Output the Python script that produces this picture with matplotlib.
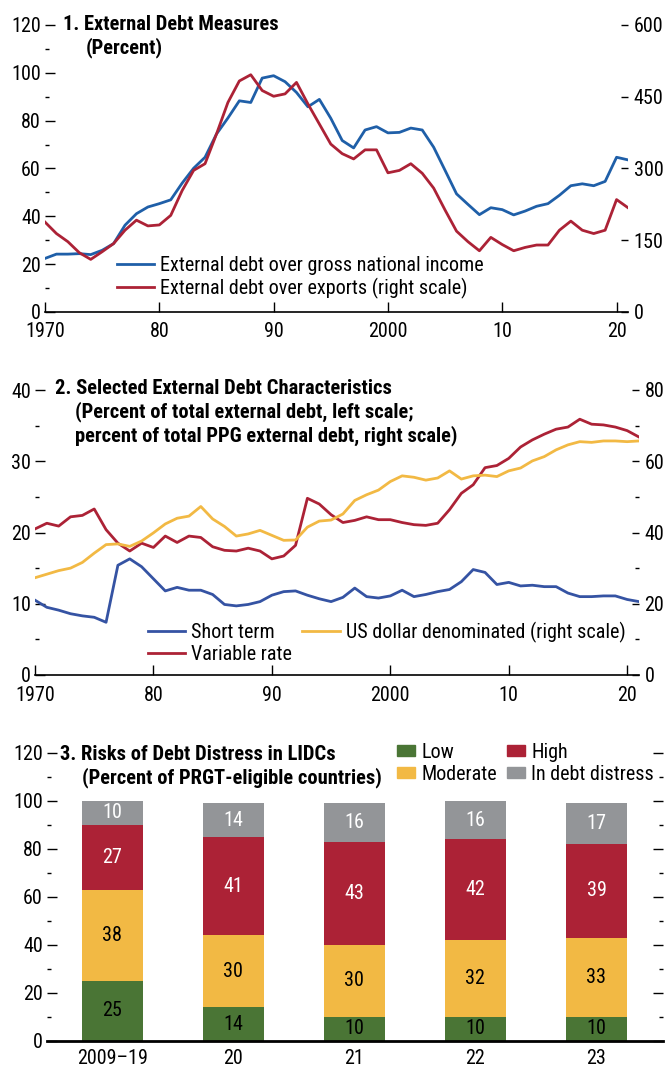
import numpy as np
import matplotlib.pyplot as plt
from matplotlib.ticker import MultipleLocator
from matplotlib.patches import Patch
from matplotlib.lines import Line2D

plt.rcParams['font.family'] = ['Roboto Condensed', 'Archivo Narrow', 'Liberation Sans', 'DejaVu Sans']

#%% data
years = np.arange(1970, 2022)

# panel 1
debt_gni = [22.4, 24.2, 24.2, 24.4, 24.0, 25.8, 28.6, 36.3, 41.1, 43.9,
            45.3, 46.9, 53.9, 60.1, 64.7, 74.4, 81.1, 88.3, 87.6, 97.8,
            98.8, 96.3, 91.8, 85.8, 88.9, 81.0, 71.7, 68.6, 76.1, 77.5,
            74.9, 75.1, 76.9, 76.1, 68.9, 59.2, 49.4, 45.0, 40.7, 43.6,
            42.8, 40.6, 42.2, 44.2, 45.3, 48.8, 52.8, 53.6, 52.8, 54.6,
            64.7, 63.6]
debt_exports = [188, 164, 147, 124, 110, 126, 143, 171, 192, 180,
                182, 202, 254, 296, 310, 372, 438, 483, 496, 463,
                451, 456, 480, 435, 393, 351, 331, 320, 339, 339,
                291, 296, 310, 290, 259, 213, 169, 147, 128, 156,
                141, 128, 135, 140, 140, 171, 190, 171, 164, 171,
                235, 218]

# panel 2
short_term = [10.5, 9.5, 9.1, 8.6, 8.3, 8.1, 7.4, 15.4, 16.3, 15.2,
              13.5, 11.8, 12.3, 11.9, 11.9, 11.3, 9.9, 9.7, 9.9, 10.3,
              11.2, 11.7, 11.8, 11.2, 10.7, 10.3, 10.9, 12.2, 11.0, 10.8,
              11.1, 11.9, 11.0, 11.3, 11.7, 12.0, 13.1, 14.8, 14.4, 12.7,
              13.0, 12.5, 12.6, 12.4, 12.4, 11.5, 11.0, 11.0, 11.1, 11.1,
              10.6, 10.3]
variable_rate = [20.5, 21.3, 20.9, 22.2, 22.4, 23.3, 20.4, 18.5, 17.4, 18.5,
                 17.9, 19.5, 18.6, 19.5, 19.3, 18.0, 17.5, 17.4, 17.8, 17.4,
                 16.3, 16.7, 18.2, 24.8, 24.0, 22.5, 21.4, 21.7, 22.2, 21.8,
                 21.8, 21.4, 21.1, 21.0, 21.3, 23.2, 25.5, 26.7, 29.1, 29.4,
                 30.4, 32.0, 33.0, 33.8, 34.5, 34.8, 35.9, 35.2, 35.1, 34.8,
                 34.3, 33.4]
usd_denom = [27.3, 28.3, 29.3, 30.0, 31.6, 34.2, 36.6, 36.8, 36.1, 37.6,
             39.9, 42.4, 44.0, 44.6, 47.3, 43.8, 41.7, 39.0, 39.6, 40.6,
             39.2, 37.8, 37.9, 41.5, 43.2, 43.5, 45.2, 49.0, 50.6, 51.9,
             54.3, 55.9, 55.5, 54.7, 55.3, 57.3, 55.0, 55.9, 56.1, 55.7,
             57.3, 58.1, 60.1, 61.3, 63.2, 64.6, 65.5, 65.3, 65.7, 65.7,
             65.5, 65.7]

# panel 3
periods = ['2009\u201319', '20', '21', '22', '23']
risk_names = ['Low', 'Moderate', 'High', 'In debt distress']
risk_low = [25, 14, 10, 10, 10]
risk_moderate = [38, 30, 30, 32, 33]
risk_high = [27, 41, 43, 42, 39]
risk_distress = [10, 14, 16, 16, 17]

blue1 = '#1f5fa8'
blue2 = '#3553a3'
red = '#ac2236'
yellow = '#f2b944'
green = '#4a7535'
gray = '#939598'

fs = 14.5
tfs = 14.8
W, H = 667, 1070

def ax_rect(x0, y0, x1, y1):
    return [x0 / W, 1 - y1 / H, (x1 - x0) / W, (y1 - y0) / H]

def ftext(x, y, s, **kw):
    fig.text(x / W, 1 - y / H, s, va='center', fontsize=tfs, fontweight='bold', **kw)

def style(ax, bottom_lw=1.2, xpad=7):
    for s in ['top', 'left', 'right']:
        ax.spines[s].set_visible(False)
    ax.spines['bottom'].set_linewidth(bottom_lw)
    ax.tick_params(axis='both', which='major', direction='in', length=7,
                   width=1, labelsize=fs, pad=3)
    ax.tick_params(axis='x', pad=xpad)
    ax.tick_params(axis='y', which='minor', direction='in', length=3, width=1)

fig = plt.figure(figsize=(W / 100, H / 100), dpi=100)

#%% panel 1
ax1 = fig.add_axes(ax_rect(45, 25, 628, 312))
ax1r = ax1.twinx()
ax1.plot(years, debt_gni, color=blue1, lw=2)
ax1r.plot(years, debt_exports, color=red, lw=2)
ax1.set_xlim(1970, 2021)
ax1.set_ylim(0, 120)
ax1r.set_ylim(0, 600)
ax1.set_yticks(range(0, 121, 20))
ax1.yaxis.set_minor_locator(MultipleLocator(10))
ax1r.set_yticks(range(0, 601, 150))
ax1.set_xticks([1970, 1980, 1990, 2000, 2010, 2020])
ax1.set_xticklabels(['1970', '80', '90', '2000', '10', '20'])
style(ax1)
style(ax1r)
ax1r.spines['bottom'].set_visible(False)
ax1r.tick_params(axis='y', which='major', direction='in', length=5, pad=4)
ax1.legend([Line2D([], [], color=blue1, lw=2), Line2D([], [], color=red, lw=2)],
           ['External debt over gross national income',
            'External debt over exports (right scale)'],
           loc='lower left', bbox_to_anchor=((117 - 45) / 583, 0.045),
           frameon=False, fontsize=fs, handlelength=1.85, handletextpad=0.3,
           labelspacing=0.15, borderaxespad=0, borderpad=0)
ftext(63, 24, '1. External Debt Measures')
ftext(86, 48, '(Percent)')

#%% panel 2
ax2 = fig.add_axes(ax_rect(35, 390, 639, 675))
ax2r = ax2.twinx()
ax2.plot(years, short_term, color=blue2, lw=2)
ax2.plot(years, variable_rate, color=red, lw=2)
ax2r.plot(years, usd_denom, color=yellow, lw=2)
ax2.set_xlim(1970, 2021)
ax2.set_ylim(0, 40)
ax2r.set_ylim(0, 80)
ax2.set_yticks(range(0, 41, 10))
ax2.yaxis.set_minor_locator(MultipleLocator(5))
ax2r.set_yticks(range(0, 81, 20))
ax2r.yaxis.set_minor_locator(MultipleLocator(10))
ax2.set_xticks([1970, 1980, 1990, 2000, 2010, 2020])
ax2.set_xticklabels(['1970', '80', '90', '2000', '10', '20'])
style(ax2, xpad=8)
style(ax2r, xpad=8)
ax2r.spines['bottom'].set_visible(False)
ax2r.tick_params(axis='y', which='major', direction='in', length=5, pad=4)
h_st = Line2D([], [], color=blue2, lw=2)
h_vr = Line2D([], [], color=red, lw=2)
h_us = Line2D([], [], color=yellow, lw=2)
ax2.legend([h_st, h_vr, h_us, Line2D([], [], lw=0)],
           ['Short term', 'Variable rate', 'US dollar denominated (right scale)', ''],
           ncol=2, loc='lower left', bbox_to_anchor=((148 - 35) / 604, 0.035),
           frameon=False, fontsize=fs, handlelength=1.85, handletextpad=0.3,
           labelspacing=0.15, columnspacing=0.5, borderaxespad=0, borderpad=0)
ftext(55, 388, '2. Selected External Debt Characteristics')
ftext(75, 412, '(Percent of total external debt, left scale;')
ftext(75, 436, 'percent of total PPG external debt, right scale)')

#%% panel 3
ax3 = fig.add_axes(ax_rect(47, 753, 663, 1041))
x = np.arange(len(periods))
segs = [risk_low, risk_moderate, risk_high, risk_distress]
cols = [green, yellow, red, gray]
txt_cols = ['black', 'black', 'white', 'white']
bottom = np.zeros(len(periods))
for vals, c, tc in zip(segs, cols, txt_cols):
    vals = np.array(vals, dtype=float)
    ax3.bar(x, vals, bottom=bottom, width=0.5, color=c)
    for xi, b, v in zip(x, bottom, vals):
        ax3.text(xi, b + v / 2, f'{v:.0f}', ha='center', va='center',
                 color=tc, fontsize=fs)
    bottom += vals
ax3.set_xlim(-0.54, 4.55)
ax3.set_ylim(0, 120)
ax3.set_yticks(range(0, 121, 20))
ax3.yaxis.set_minor_locator(MultipleLocator(10))
ax3.set_xticks(x)
ax3.set_xticklabels(periods)
style(ax3, bottom_lw=2, xpad=6)
ax3.tick_params(axis='x', length=0)
ax3.tick_params(axis='y', which='both', right=True)
ax3.legend([Patch(color=c) for c in cols], risk_names, ncol=2,
           loc='upper left', bbox_to_anchor=((397 - 47) / 616, 1.035),
           frameon=False, fontsize=fs, handlelength=0.9, handleheight=0.45,
           handletextpad=0.3, labelspacing=0.15, columnspacing=0.5,
           borderaxespad=0, borderpad=0)
ftext(60, 754, '3. Risks of Debt Distress in LIDCs')
ftext(82, 778, '(Percent of PRGT-eligible countries)')

fig.savefig('out.png', dpi=100)
